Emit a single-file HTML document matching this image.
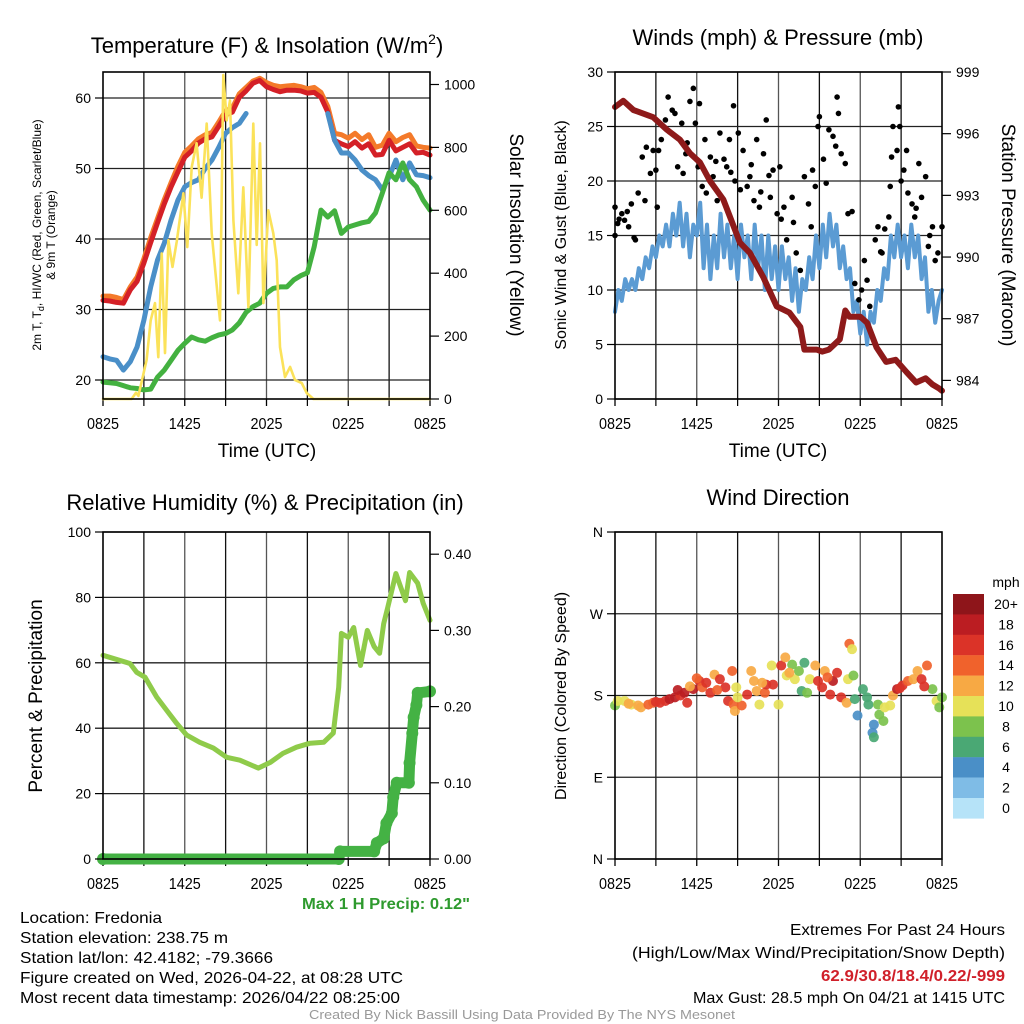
<!DOCTYPE html>
<html><head><meta charset="utf-8"><style>
html,body{margin:0;padding:0;background:#fff;}
svg{display:block;font-family:"Liberation Sans",Arial,sans-serif;}
</style></head><body>
<svg id="chart" width="1024" height="1024" viewBox="0 0 1024 1024" xmlns="http://www.w3.org/2000/svg">
<text x="267" y="53" font-size="22" text-anchor="middle">Temperature (F) &amp; Insolation (W/m<tspan dy="-9" font-size="14">2</tspan><tspan dy="9">)</tspan></text>
<text x="778" y="45" font-size="22" text-anchor="middle">Winds (mph) &amp; Pressure (mb)</text>
<text x="265" y="510" font-size="22" text-anchor="middle">Relative Humidity (%) &amp; Precipitation (in)</text>
<text x="778" y="505" font-size="22" text-anchor="middle">Wind Direction</text>

<text transform="translate(41,235) rotate(-90)" font-size="12" text-anchor="middle">2m T, T<tspan dy="3" font-size="9">d</tspan><tspan dy="-3">, HI/WC (Red, Green, Scarlet/Blue)</tspan></text>
<text transform="translate(55,235) rotate(-90)" font-size="12" text-anchor="middle">&amp; 9m T (Orange)</text>
<text transform="translate(510,235) rotate(90)" font-size="19" text-anchor="middle">Solar Insolation (Yellow)</text>
<text x="267" y="457" font-size="19" text-anchor="middle">Time (UTC)</text>

<text transform="translate(566,235) rotate(-90)" font-size="16" text-anchor="middle">Sonic Wind &amp; Gust (Blue, Black)</text>
<text transform="translate(1002,235) rotate(90)" font-size="19" text-anchor="middle">Station Pressure (Maroon)</text>
<text x="778" y="457" font-size="19" text-anchor="middle">Time (UTC)</text>

<text transform="translate(42,696) rotate(-90)" font-size="19" text-anchor="middle">Percent &amp; Precipitation</text>
<text transform="translate(566,696) rotate(-90)" font-size="16" text-anchor="middle">Direction (Colored By Speed)</text>
<text x="1006" y="587" font-size="14" text-anchor="middle">mph</text>

<text x="302" y="909" font-size="16" font-weight="bold" fill="#2e9a2e" textLength="168" lengthAdjust="spacingAndGlyphs">Max 1 H Precip: 0.12"</text>
<g font-size="16" fill="#000">
<text x="20" y="923" textLength="142" lengthAdjust="spacingAndGlyphs">Location: Fredonia</text>
<text x="20" y="943" textLength="208" lengthAdjust="spacingAndGlyphs">Station elevation: 238.75 m</text>
<text x="20" y="963" textLength="253" lengthAdjust="spacingAndGlyphs">Station lat/lon: 42.4182; -79.3666</text>
<text x="20" y="983" textLength="383" lengthAdjust="spacingAndGlyphs">Figure created on Wed, 2026-04-22, at 08:28 UTC</text>
<text x="20" y="1003" textLength="380" lengthAdjust="spacingAndGlyphs">Most recent data timestamp: 2026/04/22 08:25:00</text>
</g>
<g font-size="16">
<text x="790" y="935" textLength="215" lengthAdjust="spacingAndGlyphs">Extremes For Past 24 Hours</text>
<text x="632" y="958" textLength="373" lengthAdjust="spacingAndGlyphs">(High/Low/Max Wind/Precipitation/Snow Depth)</text>
<text x="821" y="981" fill="#d0202a" font-weight="bold" textLength="184" lengthAdjust="spacingAndGlyphs">62.9/30.8/18.4/0.22/-999</text>
<text x="693" y="1003" textLength="312" lengthAdjust="spacingAndGlyphs">Max Gust: 28.5 mph On 04/21 at 1415 UTC</text>
</g>
<text x="309" y="1019" font-size="13" fill="#999" textLength="426" lengthAdjust="spacingAndGlyphs">Created By Nick Bassill Using Data Provided By The NYS Mesonet</text>
</svg>
<script>
// ---------- data ----------
const timeTickLabels = ["0825","1425","2025","0225","0825"];
// Temperatures every 0.5 h from 0825
const tempRed = [31.3,31.2,31.0,30.9,32.8,34.0,36.6,39.5,42.3,45.0,47.4,49.5,51.6,52.5,53.6,54.2,54.5,56.0,57.6,58.0,60.1,61.0,62.1,62.5,61.6,61.2,60.9,61.1,61.1,61.0,60.7,60.8,60.1,58.0,54.0,53.5,53.1,53.8,52.9,53.5,51.9,52.0,54.0,52.5,53.0,53.5,52.2,52.3,51.9];
const tempOrange = [31.9,31.9,31.7,31.4,33.2,34.6,37.2,40.2,42.9,45.6,48.0,50.3,52.3,53.2,54.2,54.8,55.1,56.6,58.2,58.6,60.6,61.5,62.4,62.8,62.2,61.8,61.6,61.7,61.8,61.6,61.3,61.5,60.8,58.8,55.0,54.8,54.3,55.0,54.1,54.8,53.0,53.3,55.0,53.8,54.4,54.8,53.2,53.0,52.9];
const tempBlue = [23.3,23.0,22.8,21.4,22.6,24.7,28.5,33.2,37.0,39.4,42.7,45.5,47.4,48.0,48.4,50.0,51.2,53.0,55.0,55.8,56.4,57.8,null,null,null,null,null,null,null,null,null,null,null,57.8,54.0,52.2,52.2,51.2,49.8,49.0,48.4,47.0,48.8,51.2,48.4,50.8,49.1,49.0,48.7];
const tempGreen = [19.7,19.6,19.5,19.2,18.9,18.8,18.6,18.7,20.4,21.4,22.8,24.2,25.2,26.1,25.7,25.5,26.0,26.4,26.6,27.1,28.1,29.6,30.4,30.9,32.3,33.0,33.2,33.2,34.2,34.8,35.2,38.9,44.1,43.1,44.0,40.8,41.7,42.0,42.3,42.5,43.7,46.5,49.4,48.4,50.8,48.4,47.4,45.5,44.1];
const tempTicks = [20,30,40,50,60];
const solarTicks = [0,200,400,600,800,1000];
const solarHours = [0,2.1,2.42,2.6,3.2,3.5,3.82,4.06,4.31,4.55,4.8,5.1,5.41,5.9,6.19,6.51,6.87,7.24,7.61,7.98,8.59,8.83,9.08,9.32,9.57,9.93,10.3,10.67,11.03,11.28,11.52,11.77,12.13,12.5,12.75,12.99,13.36,13.73,14.09,14.58,14.95,15.44,24];
const solarValues = [0,0,20,10,124,250,305,133,463,146,505,420,500,654,483,737,813,640,876,527,250,1030,886,949,568,336,673,292,876,490,813,305,600,527,441,165,70,102,60,51,19,0,0];
// Wind
const windSpeed = [8,10,9,11,10,11,10,12,11,13,12,14,13,15,14,16,14,17,15,18,14,17,13,16,15,18,12,16,11,15,12,17,13,16,12,15,11,16,13,15,11,16,12,15,10,15,11,14,10,14,11,13,9,12,8,11,10,13,11,15,12,16,13,17,14,16,12,14,11,12,8,9,6,8,5,8,7,10,9,12,11,15,13,16,13,15,12,16,13,15,11,13,8,10,7,9,10];
const gustHours = [0,0,0.2,0.5,0.7,1.0,1.2,1.5,1.7,2.0,2.2,2.3,2.6,2.8,3.1,3.2,3.4,3.7,3.9,4.2,4.4,4.6,4.9,5.0,5.3,5.5,5.75,5.9,6.1,6.2,6.6,6.7,7.0,7.2,7.5,7.7,8.0,8.2,8.4,8.7,8.8,9.05,9.4,9.7,9.9,10.2,10.4,10.6,10.9,11.1,11.4,11.6,11.9,12.1,12.4,12.6,13.0,13.3,13.6,13.9,14.2,14.4,14.7,14.9,15.0,15.3,15.7,16.0,16.3,16.4,16.6,16.9,17.1,17.4,17.6,17.9,18.1,18.3,18.5,18.7,19.1,19.3,19.6,19.8,20.1,20.3,20.4,20.7,20.8,20.9,21.2,21.4,21.5,21.8,22.0,22.3,22.5,22.8,23.0,23.3,23.5,23.7,24,0.3,0.9,1.4,3.0,4.0,5.2,6.4,7.4,8.5,9.2,10.0,10.7,11.3,12.2,13.1,14.5,15.5,16.2,18.0,19.5,20.2,21.0,22.1,23.1];
const gustValues = [17.6,15.0,16.1,17.0,16.4,15.8,17.9,14.6,18.9,22.2,18.2,23.1,20.7,22.8,17.6,22.8,23.8,25.6,27.7,26.5,26.2,21.3,25.3,20.7,23.5,27.3,28.5,25.3,21.3,27.1,23.8,18.9,22.2,20.4,18.2,24.4,22.0,21.3,23.8,26.9,20.0,24.4,22.8,19.5,20.4,18.2,23.8,17.6,22.5,25.6,18.5,21.0,17.0,21.3,17.6,14.6,18.5,13.4,11.8,20.4,17.9,15.8,19.5,25.0,25.9,22.0,24.7,24.1,27.7,26.2,22.5,21.6,17.0,17.2,10.6,9.1,10.0,12.7,10.9,8.5,14.6,15.8,13.4,15.6,16.7,22.2,25.0,22.8,26.8,25.0,21.0,22.8,18.9,17.9,16.7,21.6,18.5,20.4,14.0,15.8,12.7,13.4,15.8,16.5,17.2,14.8,21.0,24.5,22.5,19.5,21.8,20.8,19.2,21.5,19.0,20.5,16.5,16.2,21.0,19.8,23.2,7.5,13.5,19.5,20.0,17.5,15.0];
const windTicks = [0,5,10,15,20,25,30];
const pressHours = [0,0.61,1.35,2.8,3.8,4.77,5.5,6.24,6.97,7.95,9.17,9.9,10.9,11.87,12.8,13.6,13.9,14.8,15.2,15.7,16.5,16.9,17.2,18.0,18.5,19.2,19.9,20.6,21.4,22.1,22.8,23.3,23.8,24];
const pressValues = [997.3,997.6,997.15,996.8,996.2,995.7,995.05,994.6,993.7,992.8,990.7,990.2,989.0,987.6,987.3,986.6,985.5,985.5,985.4,985.5,986.0,987.4,987.1,987.1,986.8,985.6,984.9,985.0,984.4,983.9,984.1,983.8,983.6,983.5];
const pressTicks = [984,987,990,993,996,999];
// Humidity / precipitation
const rhHours = [0,0.7,1.98,2.47,3.08,3.94,4.67,5.4,6.14,7.1,8.1,9.08,10.05,11.4,12.3,13.2,14.2,15.2,16.2,16.9,17.3,17.5,18.0,18.4,18.9,19.4,19.9,20.3,20.6,20.9,21.5,22.2,22.5,23.1,23.5,24];
const rhValues = [62.3,61.4,59.8,57.1,55.6,49.5,45.5,41.5,37.9,35.7,33.9,31.1,30.2,27.8,29.6,32.3,34.2,35.4,35.7,38.5,52.5,69.0,67.8,70.8,59.2,69.9,65.0,62.9,72.0,77.0,87.3,79.0,87.6,84.3,78.2,73.0];
const precipHours = [0,17.3,17.4,19.9,20.1,20.6,20.8,21.2,21.3,21.56,22.45,22.5,22.7,22.8,23.0,23.1,24];
const precipValues = [0,0,0.01,0.01,0.021,0.027,0.047,0.06,0.081,0.10,0.10,0.126,0.165,0.186,0.202,0.218,0.22];
const rhTicks = [0,20,40,60,80,100];
const precipTicks = [0.00,0.10,0.20,0.30,0.40];
// Direction
const dirHours = [0,0.2,0.7,1.2,1.7,1.9,2.45,2.8,3.3,3.7,4.0,4.4,4.8,5.1,5.3,5.75,6.2,6.4,6.7,7.0,7.3,7.7,8.1,8.3,8.6,8.7,8.8,8.9,9.3,9.7,10.0,10.2,10.4,10.6,11.0,11.1,11.5,11.6,12.0,12.2,12.5,12.6,13.0,13.2,13.5,13.7,13.9,14.1,14.3,14.7,14.9,15.2,15.4,15.8,16.0,16.3,16.6,17.0,17.1,17.2,17.4,17.5,17.6,17.8,18.2,18.5,18.6,18.9,19.0,19.0,19.3,19.4,19.7,19.8,20.2,20.4,20.7,21.1,21.5,21.9,22.2,22.5,22.9,23.3,23.6,23.8,24,1.0,3.0,4.6,5.5,6.0,7.5,9.0,10.8,12.8,15.6,20.9,22.7];
const dirDegrees = [169,174,174,170,169,167,170,172,172,174,176,178,180,183,172,187,196,189,194,183,203,198,189,174,207,170,163,189,169,181,207,196,185,170,183,192,213,192,170,213,222,202,214,198,207,185,216,183,198,213,196,189,207,181,196,205,178,172,198,237,231,202,176,158,187,178,170,139,148,134,170,159,152,167,169,180,187,191,196,198,207,198,213,187,174,167,178,171,173,186,190,199,186,178,194,205,200,188,190,203];
const dirSpeeds = [8,10,10,10,12,12,14,14,16,16,18,18,16,18,16,18,16,14,16,16,12,16,16,16,14,14,12,10,14,16,12,12,12,10,14,16,10,16,10,16,12,10,8,10,8,6,6,8,10,12,16,16,12,16,18,16,16,12,10,14,10,8,6,4,6,6,6,4,4,6,8,8,8,10,10,12,18,16,14,12,12,16,14,8,10,8,8,12,16,18,12,14,14,10,12,12,14,16,16];
const dirTickLabels = ["N","E","S","W","N"];
const dirTicks = [0,90,180,270,360];
const cbLabels = ["20+","18","16","14","12","10","8","6","4","2","0"];
const cbColors = ["#8e151a","#bb1d22","#db3328","#f0622c","#f7a944","#e6e158","#7cc24d","#4aa874","#4a8fc7","#7fbce6","#b6e3f8"];

// ---------- helpers ----------
const NS = "http://www.w3.org/2000/svg";
const svg = document.getElementById("chart");
function el(tag, attrs, parent){
  const e = document.createElementNS(NS, tag);
  for (const k in attrs) e.setAttribute(k, attrs[k]);
  (parent || svg).appendChild(e);
  return e;
}
function txt(x,y,s,size,anchor,parent){
  const t = el("text",{x:x,y:y,"font-size":size,"text-anchor":anchor},parent);
  t.textContent = s;
  return t;
}
const P1={x0:103,x1:430,y0:72,y1:399}, P2={x0:615,x1:942,y0:72,y1:399}, P3={x0:103,x1:430,y0:532,y1:859}, P4={x0:615,x1:942,y0:532,y1:859};
function xh(P,h){ return P.x0 + h*(P.x1-P.x0)/24; }
const yT = t => 380 - (t-20)*7.05;
const yI = v => 399 - v*0.3145;
const yW = v => 399 - v*10.9;
const yP = p => 72 + (999-p)*20.56;
const yR = r => 859 - r*3.27;
const yPr = p => 859 - p*762;
const yD = d => 859 - d*0.9083;

function frame(P, name, hy){
  const g = el("g",{});
  
  
  for (let h=3; h<24; h+=3){
    const l = el("line",{x1:xh(P,h),x2:xh(P,h),y1:P.y0,y2:P.y1,stroke:(h%6===0)?"#555":"#111","stroke-width":1.3},g);
    
    
  }
  hy.forEach(y=>{
    const l = el("line",{x1:P.x0,x2:P.x1,y1:y,y2:y,stroke:"#222","stroke-width":1.3},g);
    
    
  });
  timeTickLabels.forEach((s,i)=>{
    const x = xh(P,i*6);
    el("line",{x1:x,x2:x,y1:P.y1,y2:P.y1+7,stroke:"#000","stroke-width":1.3},g);
    const t = txt(x,P.y1+30,s,16,"middle",g);
    t.setAttribute("textLength","32");
    t.setAttribute("lengthAdjust","spacingAndGlyphs");
    
    
  });
  for (let h=3; h<24; h+=6){ el("line",{x1:xh(P,h),x2:xh(P,h),y1:P.y1,y2:P.y1+7,stroke:"#000","stroke-width":1.2},g); }
  return g;
}
function border(P,name){
  const r = el("rect",{x:P.x0,y:P.y0,width:P.x1-P.x0,height:P.y1-P.y0,fill:"none",stroke:"#000","stroke-width":1.6});
  
  
}
function leftTicks(P, vals, yf, labels, name){
  vals.forEach((v,i)=>{
    const y = yf(v);
    el("line",{x1:P.x0-8,x2:P.x0,y1:y,y2:y,stroke:"#000","stroke-width":1.2});
    const t = txt(P.x0-12,y+5,labels[i],14,"end");
    
    
  });
}
function rightTicks(P, vals, yf, labels, name){
  vals.forEach((v,i)=>{
    const y = yf(v);
    el("line",{x1:P.x1,x2:P.x1+9,y1:y,y2:y,stroke:"#000","stroke-width":1.2});
    const t = txt(P.x1+14,y+5,labels[i],14,"start");
    
    
  });
}
function pathFrom(xs, ys){
  let d = "", pen = false;
  for (let i=0;i<xs.length;i++){
    if (ys[i]===null || ys[i]===undefined){ pen=false; continue; }
    d += (pen?"L":"M") + xs[i].toFixed(1) + "," + ys[i].toFixed(1);
    pen = true;
  }
  return d;
}
function line(d, color, w, name, parent){
  const p = el("path",{d:d,fill:"none",stroke:color,"stroke-width":w,"stroke-linejoin":"round","stroke-linecap":"round"},parent);
  
  
  return p;
}

const defs = el("defs",{});
[[P1,"clip1"],[P2,"clip2"],[P3,"clip3"],[P4,"clip4"]].forEach(([P,id])=>{
  const cp = el("clipPath",{id:id},defs);
  el("rect",{x:P.x0-8,y:P.y0-6,width:P.x1-P.x0+16,height:P.y1-P.y0+14},cp);
});

// ---------- Panel 1 ----------
frame(P1,"temperature",tempTicks.map(yT));
const halfHours = tempRed.map((_,i)=>i*0.5);
const c1 = el("g",{"clip-path":"url(#clip1)"});
line(pathFrom(halfHours.map(h=>xh(P1,h)), tempOrange.map(yT)), "#f47a2a", 5, "9m-temperature-line", c1);
line(pathFrom(halfHours.map(h=>xh(P1,h)), tempRed.map(yT)), "#d42027", 5, "2m-temperature-line", c1);
line(pathFrom(halfHours.map(h=>xh(P1,h)), tempBlue.map(v=>v===null?null:yT(v))), "#4a8fc8", 5, "heat-index-wind-chill-line", c1);
line(pathFrom(halfHours.map(h=>xh(P1,h)), tempGreen.map(yT)), "#43b140", 5, "dewpoint-line", c1);
line(pathFrom(solarHours.map(h=>xh(P1,h)), solarValues.map(yI)), "#fbe25a", 2.6, "solar-insolation-line", c1);
border(P1,"temperature");
leftTicks(P1,tempTicks,yT,tempTicks.map(String),"temperature");
rightTicks(P1,solarTicks,yI,solarTicks.map(String),"insolation");

// ---------- Panel 2 ----------
frame(P2,"wind",windTicks.map(yW));
const c2 = el("g",{"clip-path":"url(#clip2)"});
line(pathFrom(windSpeed.map((_,i)=>xh(P2,i*24/(windSpeed.length-1))), windSpeed.map(yW)), "#5b9bd3", 4, "sonic-wind-line", c2);
gustHours.forEach((h,i)=>{
  const c = el("circle",{cx:xh(P2,h),cy:yW(gustValues[i]),r:2.8,fill:"#000"},c2);
  
  
});
line(pathFrom(pressHours.map(h=>xh(P2,h)), pressValues.map(yP)), "#8e1a1a", 6, "station-pressure-line", c2);
border(P2,"wind");
leftTicks(P2,windTicks,yW,windTicks.map(String),"wind");
rightTicks(P2,pressTicks,yP,pressTicks.map(String),"pressure");

// ---------- Panel 3 ----------
frame(P3,"humidity",rhTicks.map(yR));
const c3 = el("g",{"clip-path":"url(#clip3)"});
line(pathFrom(rhHours.map(h=>xh(P3,h)), rhValues.map(yR)), "#8fcb4a", 5, "relative-humidity-line", c3);
line(pathFrom(precipHours.map(h=>xh(P3,h)), precipValues.map(yPr)), "#44b244", 11, "precipitation-line", c3);
precipHours.forEach((h,i)=>{
  const c = el("circle",{cx:xh(P3,h),cy:yPr(precipValues[i]),r:6,fill:"#44b244"},c3);
  
  
});
border(P3,"humidity");
leftTicks(P3,rhTicks,yR,rhTicks.map(String),"humidity");
rightTicks(P3,precipTicks,yPr,precipTicks.map(v=>v.toFixed(2)),"precipitation");

// ---------- Panel 4 ----------
frame(P4,"direction",dirTicks.map(yD));
const c4 = el("g",{"clip-path":"url(#clip4)"});
function spdColor(s){
  const idx = Math.max(0, Math.min(10, 10 - Math.floor(s/2)));
  return cbColors[idx];
}
dirHours.forEach((h,i)=>{
  const c = el("circle",{cx:xh(P4,h),cy:yD(dirDegrees[i]),r:5,fill:spdColor(dirSpeeds[i]),"fill-opacity":0.92},c4);
  
  
});
border(P4,"direction");
leftTicks(P4,dirTicks,yD,dirTickLabels,"direction");
const cb = el("g",{});


cbColors.forEach((col,i)=>{
  const r = el("rect",{x:953,y:594+i*20.4,width:31,height:20.6,fill:col},cb);
  
  
  const t = txt(1006,594+i*20.4+15,cbLabels[i],14,"middle",cb);
  
  
});
</script>
</body></html>
